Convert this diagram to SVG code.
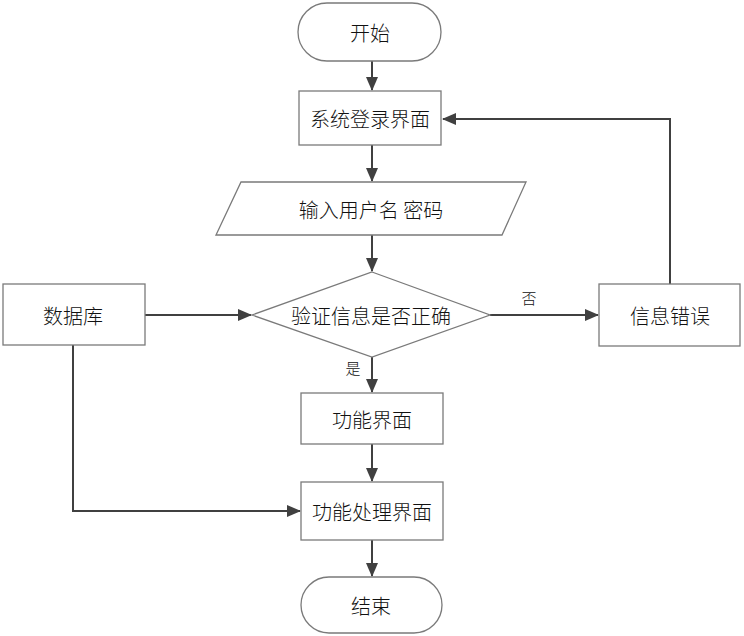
<svg xmlns="http://www.w3.org/2000/svg" width="744" height="636" viewBox="0 0 744 636">
<style>
.shape{fill:#fff;stroke:#7a7a7a;stroke-width:1.3}
.conn{fill:none;stroke:#404040;stroke-width:2}
.t{font-family:"Noto Sans CJK SC","Noto Sans",sans-serif;font-size:20px;font-weight:300;fill:#111;text-anchor:middle;dominant-baseline:central}
.s{font-size:15px}
</style>
<defs>
<marker id="arr" markerWidth="14" markerHeight="14" viewBox="0 0 14 14" refX="13" refY="7" orient="auto" markerUnits="userSpaceOnUse">
<path d="M0,1 L14,7 L0,13 Z" fill="#404040"/>
</marker>
</defs>
<rect width="744" height="636" fill="#fff"/>
<g id="connectors">
<line class="conn" x1="372" y1="61" x2="372" y2="90" marker-end="url(#arr)"/>
<line class="conn" x1="372" y1="145" x2="372" y2="181" marker-end="url(#arr)"/>
<line class="conn" x1="372" y1="235" x2="372" y2="271" marker-end="url(#arr)"/>
<line class="conn" x1="145" y1="315" x2="251" y2="315" marker-end="url(#arr)"/>
<line class="conn" x1="490" y1="315" x2="598" y2="315" marker-end="url(#arr)"/>
<polyline class="conn" points="670,284 670,119 443,119" marker-end="url(#arr)"/>
<line class="conn" x1="372" y1="357" x2="372" y2="392" marker-end="url(#arr)"/>
<line class="conn" x1="372" y1="444" x2="372" y2="481" marker-end="url(#arr)"/>
<polyline class="conn" points="73,345 73,511 300,511" marker-end="url(#arr)"/>
<line class="conn" x1="372" y1="540" x2="372" y2="576" marker-end="url(#arr)"/>
<text class="t s" x="529" y="297">否</text>
<text class="t s" x="353" y="367">是</text>
</g>
<g id="start">
<rect class="shape" x="298" y="3" width="143" height="58" rx="29" ry="29"/>
<text class="t" x="370" y="32">开始</text>
</g>
<g id="login">
<rect class="shape" x="299" y="91" width="142" height="54"/>
<text class="t" x="370" y="118">系统登录界面</text>
</g>
<g id="input">
<polygon class="shape" points="241,182 526,182 502,235 216,235"/>
<text class="t" x="371" y="209">输入用户名 密码</text>
</g>
<g id="verify">
<polygon class="shape" points="372,272 490,315 372,357 252,315"/>
<text class="t" x="371" y="315">验证信息是否正确</text>
</g>
<g id="db">
<rect class="shape" x="3" y="284" width="142" height="61"/>
<text class="t" x="73" y="315">数据库</text>
</g>
<g id="error">
<rect class="shape" x="599" y="284" width="141" height="62"/>
<text class="t" x="670" y="315">信息错误</text>
</g>
<g id="func">
<rect class="shape" x="301" y="393" width="142" height="51"/>
<text class="t" x="372" y="419">功能界面</text>
</g>
<g id="process">
<rect class="shape" x="301" y="482" width="142" height="58"/>
<text class="t" x="372" y="511">功能处理界面</text>
</g>
<g id="end">
<rect class="shape" x="301" y="577" width="141" height="56" rx="28" ry="28"/>
<text class="t" x="371" y="605">结束</text>
</g>
</svg>
